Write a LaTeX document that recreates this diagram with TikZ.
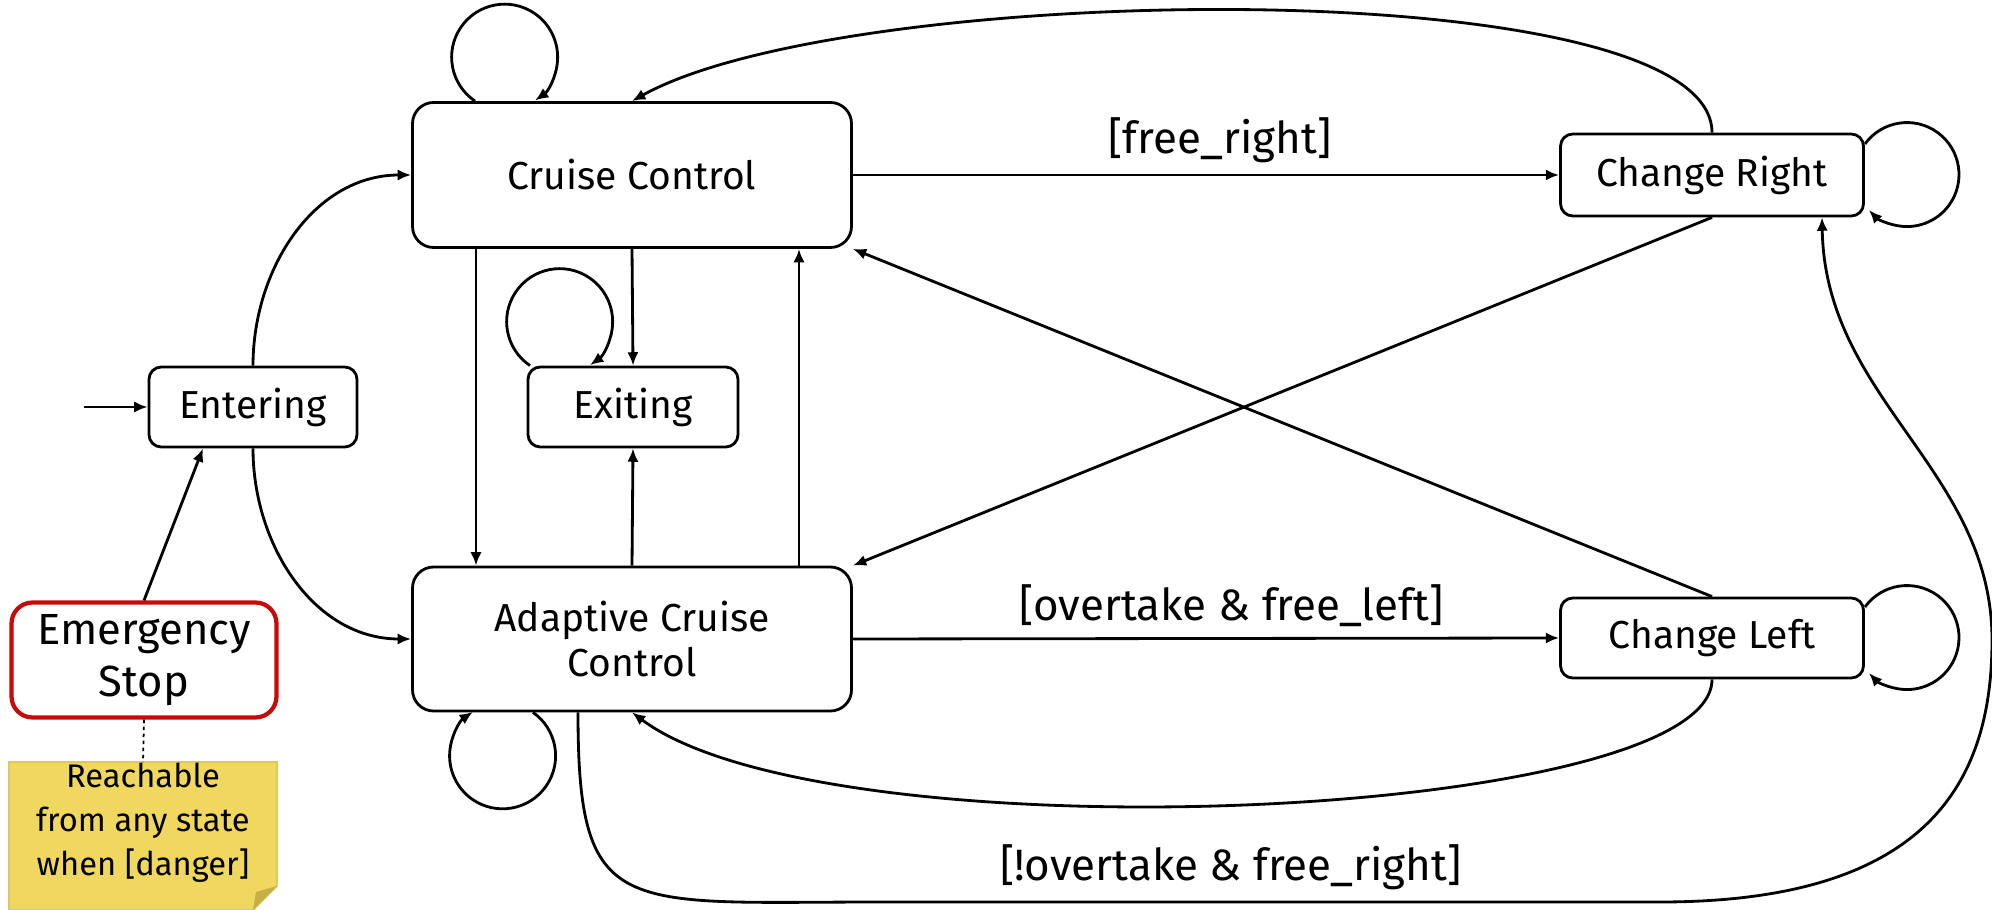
\documentclass[tikz,border=0pt]{standalone}
\usepackage{fontspec}
\setmainfont{Fira Sans}
\definecolor{StopRed}{RGB}{200,10,10}
\definecolor{NoteYellow}{RGB}{240,216,96}
\definecolor{NoteEdge}{RGB}{222,200,90}
\definecolor{NoteFold}{RGB}{196,176,70}
\usetikzlibrary{
    arrows.meta,
    positioning,
    calc,
}

\begin{document}
\begin{tikzpicture}[
    stbox/.style={rectangle, rounded corners=#1, draw, line width=0.8pt, minimum height=0.8cm, font=\fontsize{11.1}{13}\selectfont, align=center, inner sep=0pt},
    arr/.style={-{Latex[length=3.8pt,width=3.2pt]}, line width=0.8pt},
    lbl/.style={font=\fontsize{12.5}{14}\selectfont, inner sep=3pt}
]
    \useasboundingbox (0,0) rectangle (19.92,-9.10);
    % states
    \node[stbox=6pt, minimum width=4.39cm, minimum height=1.45cm] (cc) at (6.32,-1.75) {Cruise Control};
    \node[stbox=6pt, minimum width=4.39cm, minimum height=1.44cm] (acc) at (6.32,-6.39) {Adaptive Cruise\\Control};
    \node[stbox=3.5pt, minimum width=3.03cm, minimum height=0.82cm] (cr) at (17.12,-1.75) {Change Right};
    \node[stbox=3.5pt, minimum width=3.03cm] (cl) at (17.12,-6.38) {Change Left};
    \node[stbox=3.5pt, minimum width=2.10cm] (ex) at (6.33,-4.07) {Exiting};
    \node[stbox=3.5pt, minimum width=2.08cm] (ent) at (2.53,-4.07) {Entering};
    \node[stbox=6pt, draw=StopRed, line width=1.2pt, minimum width=2.65cm, minimum height=1.15cm, font=\fontsize{12.4}{14.8}\selectfont] (es) at (1.44,-6.60) {Emergency\\Stop};
    \coordinate (start) at (0.84,-4.07);
    % note
    \coordinate (notetop) at (1.43,-7.62);
    \filldraw[fill=NoteYellow, draw=NoteEdge, line width=0.5pt] (0.09,-7.62) -- (2.77,-7.62) -- (2.77,-8.86) -- (2.53,-9.10) -- (0.09,-9.10) -- cycle;
    \fill[NoteFold] (2.77,-8.86) -- (2.56,-8.92) -- (2.53,-9.10) -- cycle;
    \node[font=\fontsize{9.3}{12.5}\selectfont, align=center] (note) at (1.43,-8.23) {Reachable\\from any state\\when [danger]};
    % transitions
    \draw[arr] (start) -- (ent);
    \draw[arr] (ent.north) to[out=90, in=180] (cc.west);
    \draw[arr] (ent.south) to[out=-90, in=180] (acc.west);
    \draw[arr] (es.north) -- ([xshift=-0.5cm]ent.south);
    \draw[dashed, dash pattern=on 1pt off 1pt, line width=0.5pt] (es.south) -- (notetop);
    \draw[arr] (cc.south) -- (ex.north);
    \draw[arr] (acc.north) -- (ex.south);
    \draw[arr] ([xshift=-1.56cm]cc.south) -- ([xshift=-1.56cm]acc.north);
    \draw[arr] ([xshift=1.67cm]acc.north) -- ([xshift=1.67cm]cc.south);
    \draw[arr] (cc.east) -- node[lbl, above, pos=0.52] {[free\_right]} (cr.west);
    \draw[arr] (acc.east) -- node[lbl, above, pos=0.536] {[overtake \& free\_left]} (cl.west);
    \draw[arr] (cr.south) -- (acc.north east);
    \draw[arr] (cl.north) -- (cc.south east);
    \draw[arr] (cr.north) .. controls (17.12,0.3) and (8.5,0.2) .. (cc.north);
    \draw[arr] (cl.south) .. controls (17.12,-8.2) and (8.3,-8.6) .. (acc.south);
    \draw[arr] ([xshift=-0.54cm]acc.south) .. controls (5.78,-9.2) and (6.2,-9.02) .. (8.8,-9.02)
        -- node[lbl, above, pos=0.45] {[!overtake \& free\_right]} (16.6,-9.02)
        .. controls (19.3,-9.02) and (19.92,-7.8) .. (19.92,-6.4)
        .. controls (19.92,-4.7) and (18.25,-4.0) .. ([xshift=1.1cm]cr.south);
    % self loops
    \draw[arr] ([xshift=-1.57cm]cc.north) arc[start angle=236, end angle=-55, radius=0.53cm];
    \draw[arr] ([xshift=-1.03cm]ex.north) arc[start angle=236, end angle=-55, radius=0.53cm];
    \draw[arr] ([xshift=-0.99cm]acc.south) arc[start angle=55, end angle=-236, radius=0.53cm];
    \draw[arr] ([yshift=0.31cm]cr.east) arc[start angle=144, end angle=-137, radius=0.52cm];
    \draw[arr] ([yshift=0.31cm]cl.east) arc[start angle=144, end angle=-137, radius=0.52cm];
\end{tikzpicture}
\end{document}
